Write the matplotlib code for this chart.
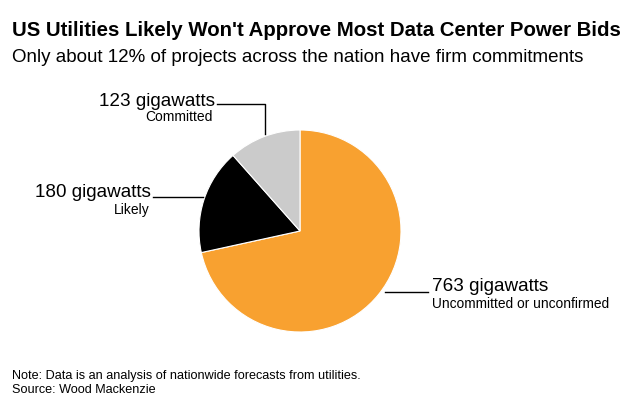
import matplotlib
matplotlib.use("Agg")
import matplotlib.pyplot as plt

plt.rcParams['font.family'] = ['Liberation Sans', 'DejaVu Sans']

# data
labels = ["Uncommitted or unconfirmed", "Likely", "Committed"]
values = [763, 180, 123]
colors = ["#f8a130", "#000000", "#cbcbcb"]

W, H = 635, 410
fig = plt.figure(figsize=(W / 100, H / 100), dpi=100)
ax = fig.add_axes([0, 0, 1, 1])
ax.set_xlim(0, W)
ax.set_ylim(0, H)
ax.set_aspect("equal")
ax.axis("off")

def py(y):
    # pixel row from top -> data y
    return H - y

cx, cy, r = 300, py(232), 101
ax.pie(values, colors=colors, startangle=90, counterclock=False,
       center=(cx, cy), radius=r, frame=True,
       wedgeprops=dict(edgecolor="white", linewidth=0.8))
ax.set_xlim(0, W)
ax.set_ylim(0, H)
ax.axis("off")

# title block
fig.text(12 / W, 1 - 30 / H, "US Utilities Likely Won't Approve Most Data Center Power Bids",
         fontsize=14.7, fontweight="bold", va="center", ha="left")
fig.text(12 / W, 1 - 57 / H, "Only about 12% of projects across the nation have firm commitments",
         fontsize=13.5, va="center", ha="left")

# leader lines
lc = "#000000"
ax.plot([217, 265, 265], [py(105), py(105), py(135)], color=lc, lw=1)
ax.plot([153, 203], [py(198), py(198)], color=lc, lw=1)
ax.plot([385, 428], [py(293), py(293)], color=lc, lw=1)

# labels
ax.text(215, py(101), f"{values[2]} gigawatts", fontsize=13.6, ha="right", va="center")
ax.text(213, py(117), labels[2], fontsize=10, ha="right", va="center")
ax.text(151, py(193), f"{values[1]} gigawatts", fontsize=13.6, ha="right", va="center")
ax.text(150, py(210), labels[1], fontsize=10, ha="right", va="center")
ax.text(432, py(287), f"{values[0]} gigawatts", fontsize=13.6, ha="left", va="center")
ax.text(432, py(304), labels[0], fontsize=9.9, ha="left", va="center")

# footer
fig.text(12 / W, 1 - 376 / H, "Note: Data is an analysis of nationwide forecasts from utilities.",
         fontsize=9.1, va="center", ha="left")
fig.text(12 / W, 1 - 390 / H, "Source: Wood Mackenzie",
         fontsize=9.1, va="center", ha="left")

fig.savefig("out.png", dpi=100)
